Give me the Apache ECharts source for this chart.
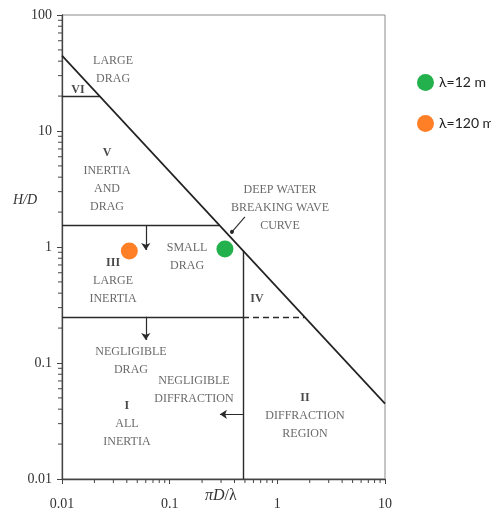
<!DOCTYPE html>
<html><head><meta charset="utf-8">
<script src="https://cdn.jsdelivr.net/npm/echarts@6/dist/echarts.min.js"></script>
<style>html,body{margin:0;padding:0;background:#fff}#c{width:491px;height:515px}</style>
</head><body><div id="c"></div>
<script>
// Axis ticks
const xTickLabels = ['0.01','0.1','1','10'];
const yTickLabels = ['0.01','0.1','1','10','100'];
const xMinorTicks = [0.02,0.03,0.04,0.05,0.06,0.07,0.08,0.09,0.2,0.3,0.4,0.5,0.6,0.7,0.8,0.9,2,3,4,5,6,7,8,9];
const yMinorTicks = [0.02,0.03,0.04,0.05,0.06,0.07,0.08,0.09,0.2,0.3,0.4,0.5,0.6,0.7,0.8,0.9,2,3,4,5,6,7,8,9,20,30,40,50,60,70,80,90];

// Deep water breaking wave curve
const breakX = [0.01, 10];
const breakY = [44.6, 0.0446];

// Region boundaries (solid)
const boundarySegments = [
  [[0.01, 20], [0.0223, 20]],
  [[0.01, 1.55], [0.288, 1.55]],
  [[0.01, 0.25], [0.48, 0.25]],
  [[0.48, 0.01], [0.48, 0.93]]
];
// Dashed boundary
const dashedSegments = [
  [[0.48, 0.25], [1.78, 0.25]]
];
// Arrows
const arrowSegments = [
  [[0.06, 1.55], [0.06, 0.94]],
  [[0.06, 0.25], [0.06, 0.158]],
  [[0.48, 0.0361], [0.293, 0.0361]]
];
// Pointer to the breaking wave curve
const pointerSegments = [
  [[0.5, 1.82], [0.379, 1.35]]
];

// Data points
const seriesNames = ['λ=12 m', 'λ=120 m'];
const greenPoint = [0.326, 0.96];
const orangePoint = [0.0422, 0.924];

// Region annotations: [x, y, boldHeading, text lines]
const annotations = [
  [0.0298, 33.9, '', ['LARGE', 'DRAG']],
  [0.01408, 22.56, 'VI', []],
  [0.0262, 3.78, 'V', ['INERTIA', 'AND', 'DRAG']],
  [1.059, 2.19, '', ['DEEP WATER', 'BREAKING WAVE', 'CURVE']],
  [0.145, 0.828, '', ['SMALL', 'DRAG']],
  [0.0298, 0.509, 'III', ['LARGE', 'INERTIA']],
  [0.647, 0.356, 'IV', []],
  [0.0437, 0.104, '', ['NEGLIGIBLE', 'DRAG']],
  [0.168, 0.0585, '', ['NEGLIGIBLE', 'DIFFRACTION']],
  [0.0401, 0.0301, 'I', ['ALL', 'INERTIA']],
  [1.807, 0.0352, 'II', ['DIFFRACTION', 'REGION']]
];

const serif = 'Liberation Serif';

function fmt(labels) {
  return function (v) {
    let best = labels[0], bd = Infinity;
    labels.forEach(l => { const d = Math.abs(Math.log10(parseFloat(l)) - Math.log10(v)); if (d < bd) { bd = d; best = l; } });
    return best;
  };
}
function segs(list) { return list.map(s => ({ coords: s })); }

const chart = echarts.init(document.getElementById('c'), null, { renderer: 'canvas' });
chart.setOption({
  backgroundColor: '#fff',
  animation: false,
  grid: { left: 62, top: 15, width: 323, height: 464, show: true, borderColor: '#8a8a8a', borderWidth: 1, backgroundColor: 'transparent' },
  legend: {
    data: seriesNames, orient: 'vertical', left: 412, top: 69, itemGap: 24,
    icon: 'circle', itemWidth: 17, itemHeight: 17,
    itemStyle: { opacity: 1 },
    textStyle: { fontFamily: 'Lato', fontSize: 14, color: '#222' }
  },
  xAxis: {
    type: 'log', logBase: 10, min: 0.01, max: 10,
    axisLine: { show: true, lineStyle: { color: '#444', width: 1.3 } },
    axisTick: { show: true, length: 5, inside: false, lineStyle: { color: '#444' } },
    axisLabel: { margin: 18, fontFamily: serif, fontSize: 14, color: '#333', formatter: fmt(xTickLabels) },
    splitLine: { show: false }, minorTick: { show: false }
  },
  yAxis: {
    type: 'log', logBase: 10, min: 0.01, max: 100,
    axisLine: { show: true, lineStyle: { color: '#444', width: 1.3 } },
    axisTick: { show: true, length: 5, inside: false, lineStyle: { color: '#444' } },
    axisLabel: { margin: 10, fontFamily: serif, fontSize: 14, color: '#333', formatter: fmt(yTickLabels) },
    splitLine: { show: false }, minorTick: { show: false }
  },
  graphic: [
    { type: 'text', left: 13, top: 193, style: { text: 'H/D', font: 'italic 14px "Liberation Serif"', fill: '#333' } },
    { type: 'text', left: 205, top: 488, style: {
      text: '{b|πD}{a|/λ}',
      rich: { a: { fontFamily: serif, fontSize: 16, fill: '#333' }, b: { fontFamily: serif, fontStyle: 'italic', fontSize: 16, fill: '#333' } }
    } }
  ],
  series: [
    {
      type: 'custom', name: 'xminor', clip: false, silent: true,
      data: xMinorTicks.map(v => [v, 0.01]),
      renderItem: (params, api) => {
        const p = api.coord([api.value(0), api.value(1)]);
        return { type: 'line', shape: { x1: p[0], y1: p[1], x2: p[0], y2: p[1] + 4 }, style: { stroke: '#444', lineWidth: 1 } };
      }
    },
    {
      type: 'custom', name: 'yminor', clip: false, silent: true,
      data: yMinorTicks.map(v => [0.01, v]),
      renderItem: (params, api) => {
        const p = api.coord([api.value(0), api.value(1)]);
        return { type: 'line', shape: { x1: p[0], y1: p[1], x2: p[0] - 4, y2: p[1] }, style: { stroke: '#444', lineWidth: 1 } };
      }
    },
    {
      type: 'line', name: 'curve', data: breakX.map((x, i) => [x, breakY[i]]),
      showSymbol: false, lineStyle: { color: '#222', width: 1.7 }, silent: true
    },
    {
      type: 'lines', coordinateSystem: 'cartesian2d', name: 'bounds', silent: true,
      data: segs(boundarySegments), lineStyle: { color: '#2a2a2a', width: 1.4, opacity: 1 }
    },
    {
      type: 'lines', coordinateSystem: 'cartesian2d', name: 'dashed', silent: true,
      data: segs(dashedSegments), lineStyle: { color: '#2a2a2a', width: 1.3, type: [6, 4], opacity: 1 }
    },
    {
      type: 'lines', coordinateSystem: 'cartesian2d', name: 'arrows', silent: true,
      symbol: ['none', 'arrow'], symbolSize: 7,
      data: segs(arrowSegments), lineStyle: { color: '#2a2a2a', width: 1.2, opacity: 1 }
    },
    {
      type: 'lines', coordinateSystem: 'cartesian2d', name: 'pointer', silent: true,
      symbol: ['none', 'circle'], symbolSize: 4,
      data: segs(pointerSegments), lineStyle: { color: '#2a2a2a', width: 1.1, opacity: 1 }
    },
    {
      type: 'scatter', name: 'labels', silent: true, symbolSize: 0,
      data: annotations.map(a => {
        const lines = [];
        if (a[2]) lines.push('{h|' + a[2] + '}');
        a[3].forEach(t => lines.push('{t|' + t + '}'));
        return { value: [a[0], a[1]], label: { formatter: lines.join('\n') } };
      }),
      label: {
        show: true, position: 'inside', align: 'center', verticalAlign: 'middle',
        rich: {
          h: { fontFamily: serif, fontSize: 12, fontWeight: 'bold', color: '#1a1a1a', lineHeight: 18 },
          t: { fontFamily: serif, fontSize: 12, color: '#444', lineHeight: 18 }
        }
      }
    },
    {
      type: 'scatter', name: seriesNames[0], data: [greenPoint], symbol: 'circle', symbolSize: 17,
      itemStyle: { color: '#22b14c', opacity: 1 }, z: 5
    },
    {
      type: 'scatter', name: seriesNames[1], data: [orangePoint], symbol: 'circle', symbolSize: 17,
      itemStyle: { color: '#ff7f27', opacity: 1 }, z: 5
    }
  ]
});
</script></body></html>
